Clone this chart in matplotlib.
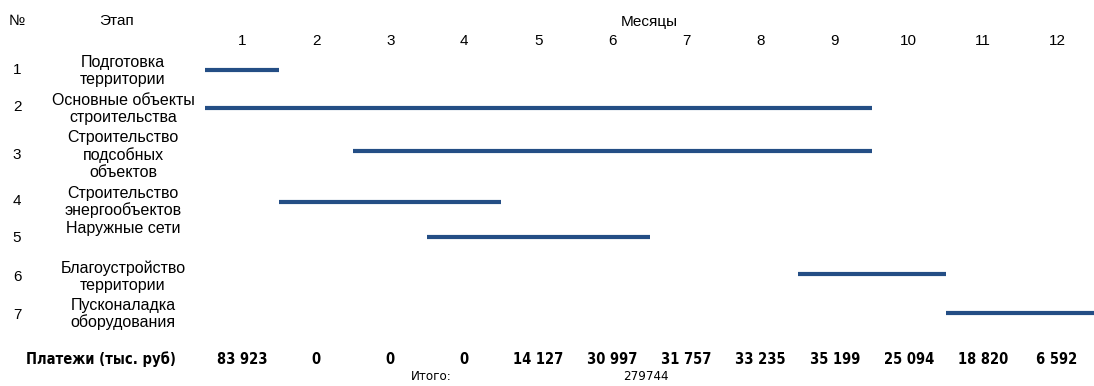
import matplotlib.pyplot as plt
import matplotlib.transforms as mtransforms

# stages and their schedule (first month, last month)
stages = [
    "Подготовка\nтерритории",
    "Основные объекты\nстроительства",
    "Строительство\nподсобных\nобъектов",
    "Строительство\nэнергообъектов",
    "Наружные сети",
    "Благоустройство\nтерритории",
    "Пусконаладка\nоборудования",
]
start_month = [1, 1, 3, 2, 4, 9, 11]
end_month = [1, 9, 9, 4, 6, 10, 12]

months = list(range(1, 13))
payments = [83923, 0, 0, 0, 14127, 30997, 31757, 33235, 35199, 25094, 18820, 6592]

# row layout (pixels from top)
num_y = [70, 107, 155, 201, 238, 277, 315]
label_y = [71, 109, 155, 202, 228, 277, 314]
bar_y = [70, 108, 151, 202, 237, 274, 313]

W, H = 1094, 386
fig = plt.figure(figsize=(W / 100, H / 100), dpi=100)
ax = fig.add_axes([205 / W, 0, 889 / W, 1])
ax.set_xlim(0, 12)
ax.set_ylim(H, 0)
ax.axis("off")

# x in figure fraction, y in data (pixel rows)
left = mtransforms.blended_transform_factory(fig.transFigure, ax.transData)

font = "Liberation Sans"
narrow = ["Liberation Sans Narrow", "DejaVu Sans"]
fs = 11
color = "black"

ax.text(17 / W, 21, "№", transform=left, ha="center", va="center",
        fontsize=fs, family=font, color=color)
ax.text(117 / W, 21, "Этап", transform=left, ha="center", va="center",
        fontsize=fs, family=font, color=color)
ax.text(6.0, 22, "Месяцы", ha="center", va="center",
        fontsize=fs, family=font, color=color)

for m in months:
    ax.text(m - 0.5, 41, str(m), ha="center", va="center",
            fontsize=fs, family=font, color=color)

for i, name in enumerate(stages):
    ax.text(17 / W, num_y[i], str(i + 1), transform=left, ha="center",
            va="center", fontsize=fs, family=font, color=color)
    ax.text(123 / W, label_y[i], name, transform=left, ha="center",
            va="center", fontsize=11.5, family=font, color=color,
            linespacing=1.15)
    ax.hlines(bar_y[i], start_month[i] - 1, end_month[i], color="#244e85",
              linewidth=3.0, capstyle="butt")

# payments row
ax.text(101 / W, 359, "Платежи (тыс. руб)", transform=left, ha="center",
        va="center", fontsize=10.5, family=narrow, stretch="condensed",
        weight="bold", color=color)
for m, p in zip(months, payments):
    ax.text(m - 0.5, 359, f"{p:,}".replace(",", " "), ha="center",
            va="center", fontsize=10.5, family=narrow, stretch="condensed",
            weight="bold", color=color)

ax.text(3.06, 376, "Итого:", ha="center", va="center", fontsize=9.5,
        family=narrow, stretch="condensed", color=color)
ax.text(5.95, 376, str(sum(payments)), ha="center", va="center", fontsize=9.5,
        family=narrow, stretch="condensed", color=color)

fig.savefig("out.png", dpi=100)
